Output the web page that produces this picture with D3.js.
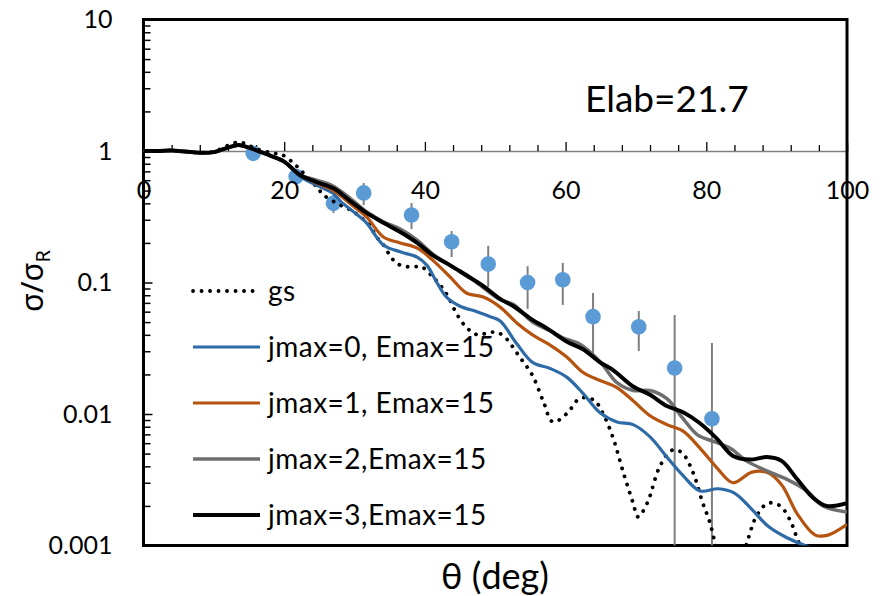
<!DOCTYPE html>
<html>
<head>
<meta charset="utf-8">
<script src="https://cdn.jsdelivr.net/npm/d3@7"></script>
<style>
  body { margin: 0; background: #fff; }
  svg text { font-family: Lato, "Noto Sans", sans-serif; fill: #000; }
</style>
</head>
<body>
<div id="chart"></div>
<script>
// ---- data (theta in deg, sigma/sigmaR) ----
const thetaFront = [0, 2, 4, 6, 8, 10, 12, 13.5, 15, 16.5, 18.5, 20];
const valFront = [1.0, 1.0, 1.01, 0.99, 0.97, 0.98, 1.06, 1.11, 1.06, 0.99, 0.90, 0.83];

const thetaGs = [0, 2, 4, 6, 8, 10, 12, 13.7, 15, 16.5, 18.5, 19.8, 21.3, 22.5, 24.6, 25.6, 27.5, 29.5, 31, 32,
  33.1, 34.1, 35.3, 36.2, 37.4, 38.6, 39.5, 41, 42.2, 43.3, 44.5, 46, 47.5, 49.5, 51, 53.5, 55.3, 56.8, 58.2, 60.2,
  62, 64, 65.3, 66.7, 68.2, 69.6, 70.3, 71.6, 73.4, 75.1, 76.5, 78.1, 79.5, 80.5, 81.5, 83, 84.5, 85.9, 87.2, 88.8,
  90.5, 91.9, 93, 94.5, 96, 98, 100];
const gsVals = [1.0, 1.0, 1.01, 0.99, 0.97, 0.99, 1.10, 1.17, 1.10, 1.02, 0.96, 0.93, 0.81, 0.70, 0.535, 0.463, 0.40, 0.355, 0.31, 0.28,
  0.223, 0.193, 0.153, 0.138, 0.132, 0.132, 0.132, 0.112, 0.095, 0.078, 0.058, 0.045, 0.040, 0.042, 0.040, 0.027, 0.0196, 0.0126, 0.0087, 0.0101,
  0.0131, 0.0128, 0.0101, 0.0067, 0.0036, 0.0021, 0.00165, 0.0021, 0.0040, 0.0053, 0.0051, 0.0036, 0.0021, 0.0015, 0.0009, 0.0004, 0.0006, 0.0011, 0.0017, 0.0021,
  0.0020, 0.00156, 0.0011, 0.0007, 0.0004, 0.0003, 0.0004];

const thetaJ0 = thetaFront.concat([22.25, 24.6, 26.9, 28.1, 30, 31.7, 34.1, 36.5, 38.9, 40.3, 41.7, 43.1, 45, 47.4, 49.3, 50.7,
  53.1, 55.3, 57.8, 60.2, 62.5, 64.9, 67.3, 69.6, 72, 74.4, 76.7, 79.1, 81.7, 84, 86.4, 88.8, 91.4, 94.5, 97, 100]);
const j0Vals = valFront.concat([0.64, 0.55, 0.479, 0.41, 0.34, 0.284, 0.193, 0.171, 0.156, 0.135, 0.10, 0.077, 0.066, 0.060, 0.055, 0.051,
  0.034, 0.0247, 0.0222, 0.019, 0.0143, 0.0102, 0.0087, 0.0083, 0.0067, 0.0047, 0.0034, 0.0026, 0.0027, 0.0025, 0.0019, 0.0014, 0.00115, 0.00098, 0.0009, 0.0008]);

const thetaJ1 = thetaFront.concat([22.25, 24.6, 26.9, 29.3, 31.7, 34.1, 36.5, 38.9, 41.1, 43.6, 45.9, 48.3, 50.7, 53.1, 55.3, 57.8,
  60.2, 62.5, 64.9, 67.3, 69.6, 72, 74.4, 76.7, 79.1, 81.5, 83.8, 86.4, 88.6, 90.7, 92.9, 95.5, 97.3, 100]);
const j1Vals = valFront.concat([0.657, 0.57, 0.505, 0.40, 0.315, 0.222, 0.200, 0.183, 0.148, 0.110, 0.0832, 0.0775, 0.065, 0.049, 0.040, 0.0334,
  0.027, 0.0207, 0.018, 0.0159, 0.0126, 0.0097, 0.0083, 0.0074, 0.0055, 0.0039, 0.0030, 0.0036, 0.0036, 0.0029, 0.00175, 0.0012, 0.0012, 0.00145]);

const thetaJ2 = thetaFront.concat([22.25, 24.6, 27, 29.3, 31.7, 34.1, 36.5, 38.9, 41.1, 43.6, 45.9, 47.8, 50.7, 52.6, 55.3, 57.8,
  59.6, 62, 64.9, 67.3, 69.6, 72, 74.4, 76.5, 78.8, 81, 83.4, 85.7, 88.6, 91.4, 94.3, 96.6, 100]);
const j2Vals = valFront.concat([0.66, 0.60, 0.54, 0.44, 0.345, 0.29, 0.255, 0.21, 0.165, 0.135, 0.115, 0.096, 0.074, 0.068, 0.050, 0.043,
  0.038, 0.034, 0.025, 0.0173, 0.0151, 0.0151, 0.0131, 0.0095, 0.0069, 0.0062, 0.0055, 0.0044, 0.0037, 0.0032, 0.0026, 0.0020, 0.0018]);

const thetaJ3 = thetaFront.concat([22.25, 24.6, 27, 29.3, 31.7, 34.1, 36.5, 38.9, 41.2, 43.6, 45.9, 48.3, 50.7, 52.6, 55.3, 57.3,
  60.2, 62.5, 64.9, 66.8, 69.6, 72, 74.4, 76.7, 79.1, 81.5, 83.8, 86.2, 88.6, 90.7, 92.9, 95.2, 97.1, 100]);
const j3Vals = valFront.concat([0.657, 0.58, 0.52, 0.42, 0.338, 0.285, 0.242, 0.20, 0.160, 0.135, 0.113, 0.094, 0.075, 0.066, 0.052, 0.045,
  0.0355, 0.031, 0.0247, 0.0215, 0.0162, 0.0140, 0.0115, 0.0103, 0.0085, 0.0065, 0.0048, 0.0045, 0.0047, 0.0044, 0.0032, 0.0023, 0.0020, 0.0021]);

// experimental points with error bars
const thetaExp = [15.6, 21.7, 27.0, 31.3, 38.1, 43.8, 49.0, 54.6, 59.6, 63.9, 70.4, 75.5, 80.8];
const sigExp = [0.96, 0.64, 0.40, 0.48, 0.326, 0.204, 0.138, 0.10, 0.105, 0.055, 0.046, 0.0224, 0.0092];
const sigHi = [0.96, 0.64, 0.463, 0.571, 0.403, 0.246, 0.19, 0.133, 0.141, 0.0832, 0.0607, 0.0566, 0.0347];
const sigLo = [0.96, 0.64, 0.338, 0.389, 0.255, 0.156, 0.0925, 0.063, 0.0675, 0.0291, 0.0301, 0.0001, 0.0001];

const seriesNames = ["gs", "jmax=0, Emax=15", "jmax=1, Emax=15", "jmax=2,Emax=15", "jmax=3,Emax=15"];
const xTicks = [0, 20, 40, 60, 80, 100];
const yTicks = [0.001, 0.01, 0.1, 1, 10];

// ---- layout ----
const W = 880, H = 596;
const plot = {left: 143.5, right: 847, top: 19.5, bottom: 545.5};

const svg = d3.select("#chart").append("svg")
  .attr("width", W).attr("height", H);

const x = d3.scaleLinear().domain([0, 100]).range([plot.left, plot.right]);
const y = d3.scaleLog().domain([0.001, 10]).range([plot.bottom, plot.top]);

svg.append("clipPath").attr("id", "clip")
  .append("rect")
  .attr("x", plot.left).attr("y", plot.top)
  .attr("width", plot.right - plot.left).attr("height", plot.bottom - plot.top);

// x axis sits on sigma = 1, ticks pointing up
const xMinor = d3.range(0, 101, 4).filter(v => v % 20 !== 0);
svg.append("g")
  .attr("transform", `translate(0,${y(1)})`)
  .call(d3.axisTop(x).tickValues(xMinor).tickSize(6).tickFormat(""))
  .call(g => g.select(".domain").attr("stroke", "#7f7f7f").attr("stroke-width", 1.5))
  .call(g => g.selectAll(".tick line").attr("stroke", "#000").attr("stroke-width", 1.3));
svg.append("g")
  .attr("transform", `translate(0,${y(1)})`)
  .call(d3.axisTop(x).tickValues(xTicks).tickSize(9).tickFormat(""))
  .call(g => g.select(".domain").remove())
  .call(g => g.selectAll(".tick line").attr("stroke", "#000").attr("stroke-width", 1.3));

// y axis ticks inside the frame
const yMinor = [];
[0.001, 0.01, 0.1, 1].forEach(d => { for (let k = 2; k < 10; k++) yMinor.push(d * k); });
svg.append("g")
  .attr("transform", `translate(${plot.left},0)`)
  .call(d3.axisRight(y).tickValues(yMinor).tickSize(7).tickFormat(""))
  .call(g => g.select(".domain").remove())
  .call(g => g.selectAll(".tick line").attr("stroke", "#000").attr("stroke-width", 1.5));
svg.append("g")
  .attr("transform", `translate(${plot.left},0)`)
  .call(d3.axisRight(y).tickValues(yTicks).tickSize(9).tickFormat(""))
  .call(g => g.select(".domain").remove())
  .call(g => g.selectAll(".tick line").attr("stroke", "#000").attr("stroke-width", 1.5));

// y tick labels
svg.append("g")
  .attr("transform", `translate(${plot.left},0)`)
  .call(d3.axisLeft(y).tickValues(yTicks).tickSize(0).tickPadding(31)
    .tickFormat(d => d3.format("")(d)))
  .call(g => g.select(".domain").remove())
  .call(g => g.selectAll("text").style("font-size", "25px").style("font-family", "Lato, sans-serif"));

// frame
svg.append("rect")
  .attr("x", plot.left).attr("y", plot.top)
  .attr("width", plot.right - plot.left).attr("height", plot.bottom - plot.top)
  .attr("fill", "none").attr("stroke", "#000").attr("stroke-width", 3);

// experimental points and error bars
const body = svg.append("g").attr("clip-path", "url(#clip)");
const expData = thetaExp.map((t, i) => ({t: t, v: sigExp[i], lo: sigLo[i], hi: sigHi[i]}));
body.selectAll(".err").data(expData.filter(d => d.hi > d.lo)).join("line")
  .attr("class", "err")
  .attr("x1", d => x(d.t)).attr("x2", d => x(d.t))
  .attr("y1", d => y(d.hi)).attr("y2", d => y(Math.max(d.lo, 0.0005)))
  .attr("stroke", "#7f7f7f").attr("stroke-width", 2);
body.selectAll(".pt").data(expData).join("circle")
  .attr("class", "pt")
  .attr("cx", d => x(d.t)).attr("cy", d => y(d.v)).attr("r", 7.8)
  .attr("fill", "#5b9bd5");

// curves
const series = [
  {name: seriesNames[0], th: thetaGs, v: gsVals, color: "#000", width: 3.8, dash: "0.1 8.4"},
  {name: seriesNames[1], th: thetaJ0, v: j0Vals, color: "#2e6ba6", width: 3.2, dash: null},
  {name: seriesNames[2], th: thetaJ1, v: j1Vals, color: "#b5530f", width: 3.2, dash: null},
  {name: seriesNames[3], th: thetaJ2, v: j2Vals, color: "#6e6e6e", width: 3.5, dash: null},
  {name: seriesNames[4], th: thetaJ3, v: j3Vals, color: "#000", width: 4, dash: null}
];

const line = d3.line()
  .x(d => x(d[0]))
  .y(d => y(Math.max(d[1], 0.0001)))
  .curve(d3.curveCatmullRom.alpha(0.5));

series.forEach(s => {
  body.append("path")
    .datum(s.th.map((t, i) => [t, s.v[i]]))
    .attr("d", line)
    .attr("fill", "none")
    .attr("stroke", s.color)
    .attr("stroke-width", s.width)
    .attr("stroke-linecap", s.dash ? "round" : "butt")
    .attr("stroke-linejoin", "round")
    .attr("stroke-dasharray", s.dash);
});

// x tick labels, drawn below the sigma = 1 line
svg.append("g")
  .attr("transform", `translate(0,${y(1)})`)
  .call(d3.axisBottom(x).tickValues(xTicks).tickSize(0).tickPadding(30))
  .call(g => g.select(".domain").remove())
  .call(g => g.selectAll("text").style("font-size", "25px").style("font-family", "Lato, sans-serif"));

// legend
const legend = svg.append("g");
series.forEach((s, i) => {
  const ly = 291 + i * 56;
  legend.append("line")
    .attr("x1", 193).attr("x2", 260).attr("y1", ly).attr("y2", ly)
    .attr("stroke", s.color).attr("stroke-width", s.width)
    .attr("stroke-linecap", s.dash ? "round" : "butt")
    .attr("stroke-dasharray", s.dash);
  legend.append("text")
    .attr("x", 268).attr("y", ly).attr("dy", "0.35em")
    .style("font-size", "28px")
    .style("letter-spacing", "0.5px")
    .text(s.name);
});

// annotation
svg.append("text")
  .attr("x", 585).attr("y", 112)
  .style("font-size", "37px")
  .text("Elab=21.7");

// axis titles
svg.append("text")
  .attr("x", 495).attr("y", 589)
  .attr("text-anchor", "middle")
  .style("font-size", "36px")
  .text("θ (deg)");

const yt = svg.append("text")
  .attr("transform", "translate(43,281) rotate(-90)")
  .attr("text-anchor", "middle")
  .style("font-size", "31px")
  .style("font-family", "'Noto Sans', sans-serif");
yt.append("tspan").text("σ/σ");
yt.append("tspan").attr("dy", 7).style("font-size", "20px").text("R");
</script>
</body>
</html>
